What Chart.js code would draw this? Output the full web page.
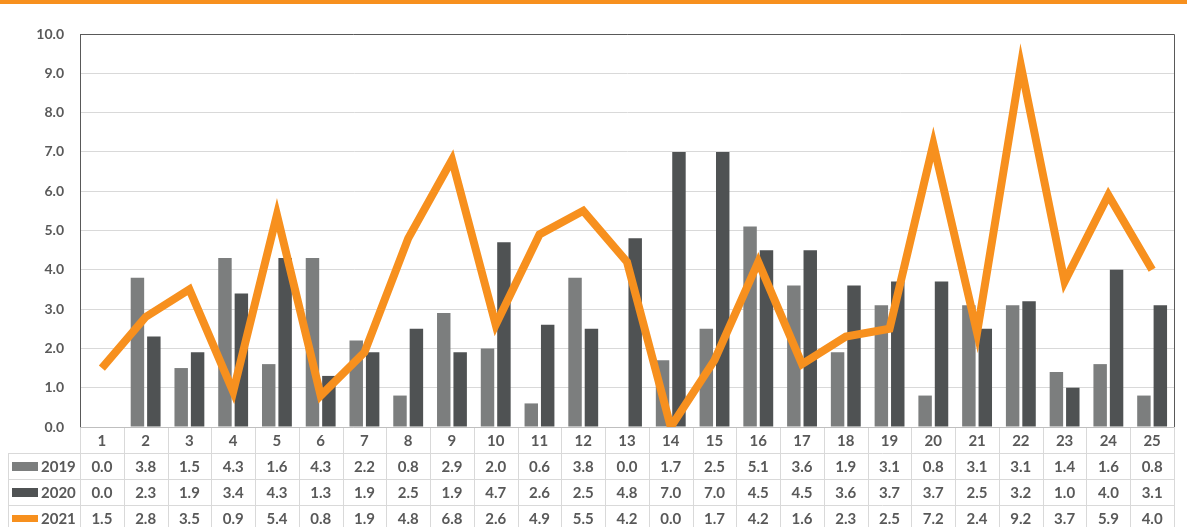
<!DOCTYPE html>
<html>
<head>
<meta charset="utf-8">
<script src="https://cdn.jsdelivr.net/npm/chart.js@4/dist/chart.umd.min.js"></script>
<style>
  html, body { margin: 0; padding: 0; background: #fff; }
  #wrap { position: relative; width: 1187px; height: 527px; overflow: hidden; }
  #topbar { position: absolute; left: 0; top: 0; width: 1187px; height: 4px; background: #f7901e; }
  #c { position: absolute; left: 0; top: 0; }
</style>
</head>
<body>
<div id="wrap">
  <div id="topbar"></div>
  <canvas id="c" width="1187" height="527"></canvas>
</div>
<script>
const categories = ['1','2','3','4','5','6','7','8','9','10','11','12','13','14','15','16','17','18','19','20','21','22','23','24','25'];
const seriesNames = ['2019', '2020', '2021'];
const values2019 = [0.0,3.8,1.5,4.3,1.6,4.3,2.2,0.8,2.9,2.0,0.6,3.8,0.0,1.7,2.5,5.1,3.6,1.9,3.1,0.8,3.1,3.1,1.4,1.6,0.8];
const values2020 = [0.0,2.3,1.9,3.4,4.3,1.3,1.9,2.5,1.9,4.7,2.6,2.5,4.8,7.0,7.0,4.5,4.5,3.6,3.7,3.7,2.5,3.2,1.0,4.0,3.1];
const values2021 = [1.5,2.8,3.5,0.9,5.4,0.8,1.9,4.8,6.8,2.6,4.9,5.5,4.2,0.0,1.7,4.2,1.6,2.3,2.5,7.2,2.4,9.2,3.7,5.9,4.0];
const yTicks = [0,1,2,3,4,5,6,7,8,9,10];

const C2019 = '#7c7e7e';
const C2020 = '#4f5253';
const C2021 = '#f7901e';
const TEXT = '#595959';
const FONT = 'Lato, "Open Sans", sans-serif';

const tablePlugin = {
  id: 'dataTable',
  afterDraw(chart) {
    const ctx = chart.ctx;
    const xs = chart.scales.x;
    const area = chart.chartArea;
    const n = categories.length;
    const colW = (area.right - area.left) / n;
    const rowTop = area.bottom;
    const rowH = 26;
    const labelLeft = 8;
    ctx.save();
    ctx.strokeStyle = '#595959';
    ctx.lineWidth = 1;
    ctx.beginPath();
    ctx.moveTo(area.left, area.top + 0.5);
    ctx.lineTo(area.right + 0.5, area.top + 0.5);
    ctx.lineTo(area.right + 0.5, area.bottom);
    ctx.stroke();
    ctx.strokeStyle = '#d9d9d9';
    ctx.beginPath();
    for (let r = 1; r <= 4; r++) {
      const y = Math.round(rowTop + r * rowH) + 0.5;
      ctx.moveTo(labelLeft, y);
      ctx.lineTo(area.right, y);
    }
    for (let i = 0; i <= n; i++) {
      const x = Math.round(xs.getPixelForValue(i) - colW / 2) + 0.5;
      ctx.moveTo(x, rowTop);
      ctx.lineTo(x, rowTop + 5 * rowH);
    }
    const lx = labelLeft + 0.5;
    ctx.moveTo(lx, rowTop + rowH);
    ctx.lineTo(lx, rowTop + 5 * rowH);
    ctx.stroke();
    ctx.strokeStyle = '#bfbfbf';
    ctx.beginPath();
    ctx.moveTo(area.left, rowTop + 0.5);
    ctx.lineTo(area.right, rowTop + 0.5);
    ctx.stroke();

    ctx.fillStyle = TEXT;
    ctx.font = 'bold 15px ' + FONT;
    ctx.textAlign = 'center';
    ctx.textBaseline = 'middle';
    for (let i = 0; i < n; i++) {
      ctx.fillText(categories[i], xs.getPixelForValue(i), rowTop + rowH / 2 + 1);
    }
    const rows = [values2019, values2020, values2021];
    const colors = [C2019, C2020, C2021];
    for (let r = 0; r < 3; r++) {
      const yc = rowTop + (r + 1) * rowH + rowH / 2 + 1;
      ctx.fillStyle = colors[r];
      if (r < 2) ctx.fillRect(12, yc - 5, 26, 9);
      else ctx.fillRect(12, yc - 4, 26, 7);
      ctx.fillStyle = TEXT;
      ctx.textAlign = 'left';
      ctx.fillText(seriesNames[r], 41, yc);
      ctx.textAlign = 'center';
      for (let i = 0; i < n; i++) {
        ctx.fillText(rows[r][i].toFixed(1), xs.getPixelForValue(i), yc);
      }
    }
    ctx.restore();
  }
};

new Chart(document.getElementById('c'), {
  type: 'bar',
  data: {
    labels: categories,
    datasets: [
      { type: 'line', label: seriesNames[2], data: values2021, borderColor: C2021, backgroundColor: C2021,
        borderWidth: 8, pointRadius: 0, tension: 0, borderJoinStyle: 'miter', borderCapStyle: 'butt', order: 0 },
      { label: seriesNames[0], data: values2019, backgroundColor: C2019, order: 1,
        categoryPercentage: 0.75, barPercentage: 0.82 },
      { label: seriesNames[1], data: values2020, backgroundColor: C2020, order: 1,
        categoryPercentage: 0.75, barPercentage: 0.82 }
    ]
  },
  options: {
    responsive: false,
    animation: false,
    devicePixelRatio: 1,
    layout: { padding: { left: 0, right: 13, top: 34, bottom: 100 } },
    plugins: { legend: { display: false }, tooltip: { enabled: false } },
    scales: {
      x: { display: false, offset: true },
      y: {
        min: 0, max: 10,
        afterFit(scale) { scale.width = 80; },
        afterBuildTicks(scale) { scale.ticks = yTicks.map(v => ({ value: v })); },
        ticks: { stepSize: 1, padding: 16, color: TEXT, font: { family: FONT, size: 14, weight: 'bold' },
          callback: v => Number(v).toFixed(1) },
        grid: { color: '#d9d9d9', drawTicks: false },
        border: { color: '#595959', width: 1 }
      }
    }
  },
  plugins: [tablePlugin]
});
</script>
</body>
</html>
